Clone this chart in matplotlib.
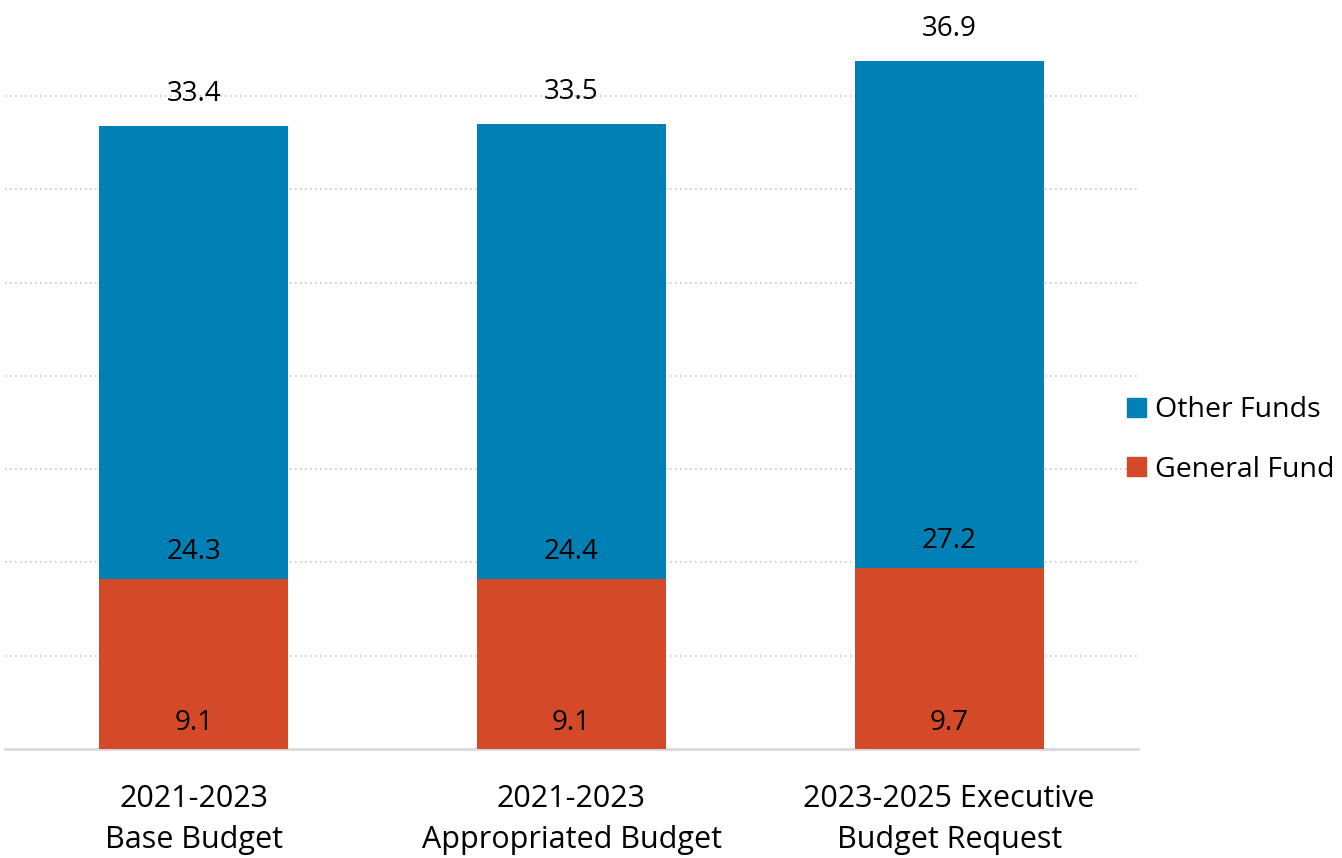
import numpy as np
import matplotlib
matplotlib.use('Agg')
from matplotlib import pyplot as plt
from matplotlib.patches import Patch

plt.rcParams['font.family'] = ['Open Sans', 'DejaVu Sans']

categories = ['2021-2023\nBase Budget', '2021-2023\nAppropriated Budget', '2023-2025 Executive\nBudget Request']
general_fund = [9.1, 9.1, 9.7]
other_funds = [24.3, 24.4, 27.2]
totals = [33.4, 33.5, 36.9]

blue = '#0080B4'
orange = '#D44A28'

fig = plt.figure(figsize=(13.42, 8.58), dpi=100)
ax = fig.add_axes([5/1342, 109/858, 1133/1342, 749/858])

x = np.arange(len(categories))
ax.bar(x, general_fund, width=0.5, color=orange, zorder=3)
ax.bar(x, other_funds, width=0.5, bottom=general_fund, color=blue, zorder=3)

for i in range(len(x)):
    ax.annotate(f'{general_fund[i]:.1f}', (x[i], 0), xytext=(0, 26), textcoords='offset pixels',
                ha='center', va='center', fontsize=20, zorder=4)
    ax.annotate(f'{other_funds[i]:.1f}', (x[i], general_fund[i]), xytext=(0, 27), textcoords='offset pixels',
                ha='center', va='center', fontsize=20, zorder=4)
    ax.annotate(f'{totals[i]:.1f}', (x[i], totals[i]), xytext=(0, 32), textcoords='offset pixels',
                ha='center', va='center', fontsize=20, zorder=4)

ax.set_xlim(-0.5, 2.5)
ax.set_ylim(0, 40.15)
ax.set_yticks(np.arange(5, 40, 5))
ax.yaxis.grid(True, linestyle=(0, (1, 2)), color='#C8C8C8', linewidth=1.2, zorder=0)
ax.set_yticklabels([])
ax.tick_params(axis='y', length=0)
ax.tick_params(axis='x', length=0, pad=25, labelsize=22)
ax.set_xticks(x)
ax.set_xticklabels(categories, linespacing=1.5)

for s in ['top', 'right', 'left']:
    ax.spines[s].set_visible(False)
ax.spines['bottom'].set_color('#D9D9D9')
ax.spines['bottom'].set_linewidth(2)

handles = [Patch(color=blue, label='Other Funds'), Patch(color=orange, label='General Fund')]
fig.legend(handles=handles, loc='center left', bbox_to_anchor=(1101/1342, 1 - 440/858),
           frameon=False, fontsize=20.5, handlelength=0.68, handleheight=0.68,
           handletextpad=0.3, labelspacing=1.1)

fig.savefig('out.png', dpi=100)
